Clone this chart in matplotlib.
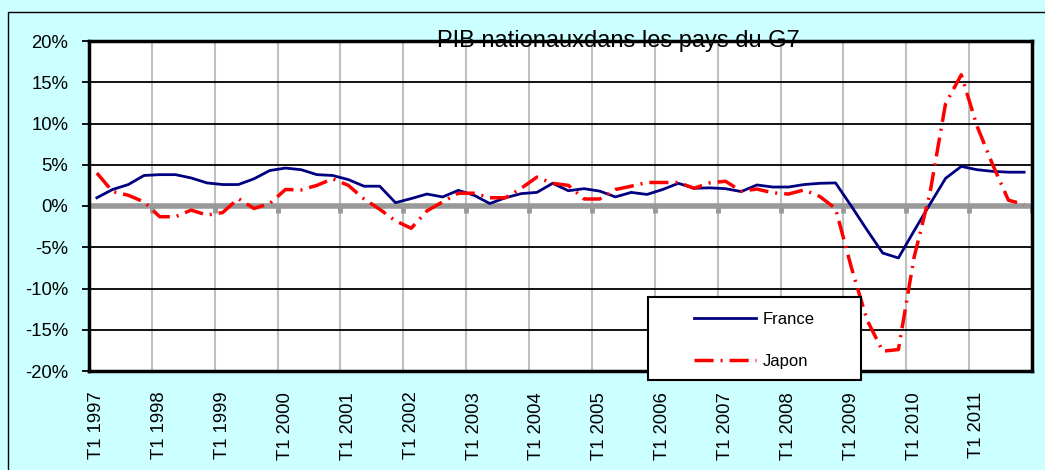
import matplotlib
matplotlib.use("Agg")
import matplotlib.pyplot as plt
from matplotlib.patches import Rectangle
from matplotlib.lines import Line2D

# Données trimestrielles (T1 1997 - T4 2011), croissance du PIB en %
annees = list(range(1997, 2012))
france = [1.0, 2.0, 2.6, 3.7, 3.8, 3.8, 3.4, 2.8, 2.6, 2.6, 3.3, 4.3, 4.6, 4.4, 3.8, 3.7,
          3.2, 2.4, 2.4, 0.4, 0.9, 1.45, 1.1, 1.9, 1.3, 0.3, 1.0, 1.5, 1.65, 2.75, 1.85, 2.1,
          1.8, 1.1, 1.65, 1.4, 2.0, 2.75, 2.15, 2.2, 2.1, 1.75, 2.55, 2.3, 2.3, 2.6, 2.75, 2.8,
          0.0, -2.9, -5.7, -6.3, -3.0, 0.2, 3.35, 4.8, 4.4, 4.2, 4.1, 4.1]
japon = [4.0, 1.75, 1.3, 0.5, -1.3, -1.3, -0.5, -1.1, -0.8, 0.9, -0.3, 0.3, 2.0, 1.95, 2.5, 3.3,
         2.5, 0.85, -0.4, -1.8, -2.7, -0.6, 0.5, 1.55, 1.55, 1.0, 1.0, 2.15, 3.5, 2.75, 2.5, 0.85,
         0.85, 2.0, 2.4, 2.85, 2.85, 2.85, 2.15, 2.8, 3.0, 1.8, 2.05, 1.6, 1.45, 1.95, 1.15, -0.3,
         -7.4, -13.8, -17.6, -17.4, -6.2, 1.5, 12.4, 15.9, 9.7, 5.0, 0.7, 0.2]
y_ticks = [20, 15, 10, 5, 0, -5, -10, -15, -20]
x_labels = ["T1 %d" % a for a in annees]

W, H = 1045, 470
fig = plt.figure(figsize=(W / 100, H / 100), dpi=100, facecolor="#CCFFFF")
ax = fig.add_axes([89 / W, 1 - 371 / H, (1032 - 89) / W, (371 - 41) / H])
ax.set_facecolor("white")

x = list(range(len(france)))
ax.set_xlim(-0.5, len(france) - 0.5)
ax.set_ylim(-20, 20)

# grille
ax.set_yticks(y_ticks)
ax.set_yticklabels(["%d%%" % v for v in y_ticks])
ax.yaxis.grid(True, color="black", linewidth=1.3)
grid_x = [i - 0.5 for i in range(4, len(france), 4)]
ax.set_xticks(grid_x, minor=True)
ax.xaxis.grid(True, which="minor", color="#C0C0C0", linewidth=1.5)
ax.set_xticks(list(range(0, len(france), 4)))
ax.set_xticklabels(x_labels, rotation=90, fontfamily="Liberation Sans", fontsize=13.3)
ax.tick_params(axis="x", which="both", length=0, pad=15)
ax.tick_params(axis="y", length=5, width=1.3, pad=10, labelsize=13.3)
for lab in ax.get_yticklabels():
    lab.set_fontfamily("Liberation Sans")
ax.set_axisbelow(True)

# axe des abscisses à 0
ax.axhline(0, color="#999999", linewidth=4, zorder=2)
ax.vlines(grid_x + [len(france) - 0.5], -0.8, 0, colors="#999999", linewidth=3.5, zorder=2)

for s in ax.spines.values():
    s.set_linewidth(2.5)
    s.set_color("black")

ax.plot(x, france, color="#000080", linewidth=2.0, zorder=3)
ax.plot(x, japon, color="#FF0000", linewidth=2.5, linestyle=(0, (5.5, 2, 0.6, 2)), zorder=4)

# titre
fig.text(618 / W, 1 - 46.5 / H, "PIB nationauxdans les pays du G7", ha="center", va="baseline",
         fontsize=17, fontfamily="Liberation Sans", zorder=5)

# cadre extérieur
fig.add_artist(Rectangle((8 / W, -0.1), 1.2, 1 - 12 / H + 0.1, transform=fig.transFigure,
                         facecolor="none", edgecolor="black", linewidth=1.0, zorder=1))

# légende
fig.add_artist(Rectangle((648 / W, 1 - 380 / H), 213 / W, 83 / H, transform=fig.transFigure,
                         facecolor="white", edgecolor="black", linewidth=1.5, zorder=2))
handles = [Line2D([], [], color="#000080", linewidth=2.0),
           Line2D([], [], color="#FF0000", linewidth=2.5, linestyle=(0, (5.5, 2, 0.6, 2)))]
leg = fig.legend(handles, ["France", "Japon"], loc="upper left",
                 bbox_to_anchor=(694 / W, 1 - 312 / H), frameon=False, borderpad=0,
                 borderaxespad=0, handlelength=3.7, handletextpad=0.42, labelspacing=1.6,
                 prop={"family": "Liberation Sans", "size": 12})
leg.set_zorder(3)

fig.savefig("out.png", dpi=100, facecolor=fig.get_facecolor())
